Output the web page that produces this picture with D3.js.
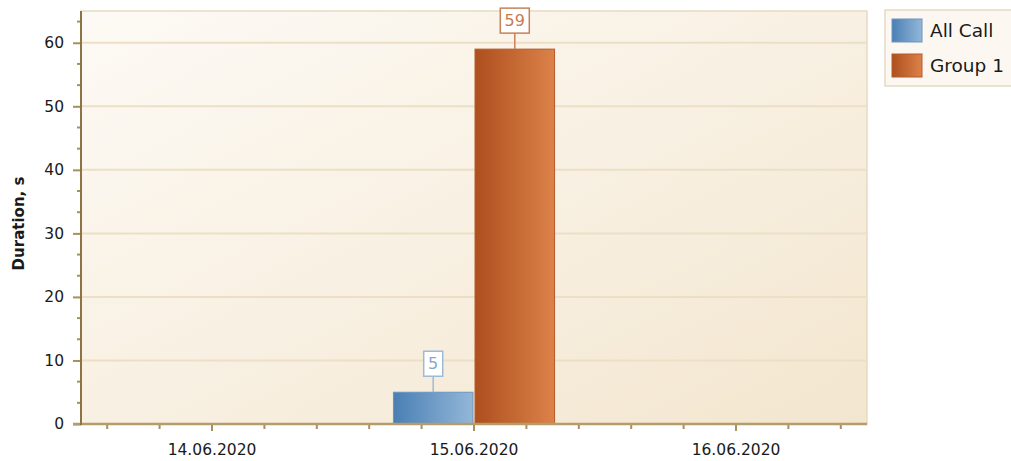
<!DOCTYPE html>
<html>
<head>
<meta charset="utf-8">
<script src="https://cdn.jsdelivr.net/npm/d3@7"></script>
<style>
  html, body { margin: 0; padding: 0; background: #ffffff; }
  svg { display: block; }
  text { font-family: "DejaVu Sans", sans-serif; }
</style>
</head>
<body>
<svg id="chart" width="1011" height="461"></svg>
<script>
// Call duration per day, by group
const categories = ["14.06.2020", "15.06.2020", "16.06.2020"];
const seriesNames = ["All Call", "Group 1"];
const allCallValues = [0, 5, 0];
const group1Values = [0, 59, 0];
const yTickValues = [0, 10, 20, 30, 40, 50, 60];
const yMax = 65;

const seriesValues = [allCallValues, group1Values];
const palette = [
  { dark: "#4a7fb4", light: "#93b7d8", stroke: "#6a95c2", text: "#86a8c9", box: "#9dbad6" },
  { dark: "#ad4f1e", light: "#dc8249", stroke: "#b45a28", text: "#c97a4f", box: "#c98058" }
];

const svg = d3.select("#chart");
const plot = { left: 81, right: 867, top: 11, bottom: 424 };

const defs = svg.append("defs");
const bg = defs.append("linearGradient").attr("id", "bgGrad")
  .attr("x1", "0%").attr("y1", "0%").attr("x2", "100%").attr("y2", "100%");
bg.append("stop").attr("offset", "0%").attr("stop-color", "#fdfaf5");
bg.append("stop").attr("offset", "100%").attr("stop-color", "#f3e6cf");

palette.forEach((p, i) => {
  const g = defs.append("linearGradient").attr("id", "barGrad" + i)
    .attr("x1", "0%").attr("y1", "0%").attr("x2", "100%").attr("y2", "0%");
  g.append("stop").attr("offset", "0%").attr("stop-color", p.dark);
  g.append("stop").attr("offset", "100%").attr("stop-color", p.light);
});

const x = d3.scaleBand().domain(categories).range([plot.left, plot.right]).padding(0);
const groupWidth = x.bandwidth() * 0.615;
const x1 = d3.scaleBand().domain(seriesNames).range([0, groupWidth]).paddingInner(0.025);
const y = d3.scaleLinear().domain([0, yMax]).range([plot.bottom, plot.top]);

// plot background
svg.append("rect")
  .attr("x", plot.left).attr("y", plot.top)
  .attr("width", plot.right - plot.left).attr("height", plot.bottom - plot.top)
  .attr("fill", "url(#bgGrad)")
  .attr("stroke", "#e6dac2").attr("stroke-width", 1.5);

// horizontal grid
svg.append("g").selectAll("line")
  .data(yTickValues.filter(v => v > 0))
  .join("line")
  .attr("x1", plot.left).attr("x2", plot.right)
  .attr("y1", d => y(d)).attr("y2", d => y(d))
  .attr("stroke", "#ecdfc6").attr("stroke-width", 2);

// bars
const bars = svg.append("g");
categories.forEach((cat, ci) => {
  const gx = x(cat) + (x.bandwidth() - groupWidth) / 2;
  seriesNames.forEach((name, si) => {
    const v = seriesValues[si][ci];
    if (v <= 0) return;
    const bx = gx + x1(name);
    const bw = x1.bandwidth();
    bars.append("rect")
      .attr("x", bx).attr("y", y(v))
      .attr("width", bw).attr("height", y(0) - y(v))
      .attr("fill", "url(#barGrad" + si + ")")
      .attr("stroke", palette[si].stroke).attr("stroke-width", 1);

    // value callout
    const cx = bx + bw / 2;
    const label = String(v);
    const boxW = label.length === 1 ? 19 : 29;
    const boxH = 25;
    const lineLen = 16;
    const boxBottom = y(v) - lineLen;
    bars.append("line")
      .attr("x1", cx).attr("x2", cx)
      .attr("y1", boxBottom).attr("y2", y(v))
      .attr("stroke", palette[si].box).attr("stroke-width", 1.5);
    bars.append("rect")
      .attr("x", cx - boxW / 2).attr("y", boxBottom - boxH)
      .attr("width", boxW).attr("height", boxH)
      .attr("fill", "#ffffff")
      .attr("stroke", palette[si].box).attr("stroke-width", 1.5);
    bars.append("text")
      .attr("x", cx).attr("y", boxBottom - boxH / 2)
      .attr("text-anchor", "middle").attr("dominant-baseline", "central")
      .attr("font-size", 16).attr("fill", palette[si].text)
      .text(label);
  });
});

const axisColor = "#8d7444";

// y axis
const yAxis = d3.axisLeft(y).tickValues(yTickValues).tickSize(8).tickPadding(9);
const gy = svg.append("g").attr("transform", `translate(${plot.left},0)`).call(yAxis);
gy.select(".domain").remove();
gy.selectAll(".tick line").attr("stroke", "#a88f5e").attr("stroke-width", 2);
gy.selectAll(".tick text").attr("font-size", 15.5).attr("fill", "#1a1a1a")
  .attr("font-family", "DejaVu Sans, sans-serif");

// y minor ticks at thirds
const yMinor = d3.range(1, Math.floor(yMax * 3 / 10) + 1)
  .filter(k => k % 3 !== 0).map(k => k * 10 / 3);
svg.append("g").selectAll("line").data(yMinor).join("line")
  .attr("x1", plot.left - 4).attr("x2", plot.left)
  .attr("y1", d => y(d)).attr("y2", d => y(d))
  .attr("stroke", "#a88f5e").attr("stroke-width", 2);

// x axis
const xAxis = d3.axisBottom(x).tickSize(7).tickPadding(13);
const gx = svg.append("g").attr("transform", `translate(0,${plot.bottom})`).call(xAxis);
gx.select(".domain").remove();
gx.selectAll(".tick line").attr("stroke", "#a88f5e").attr("stroke-width", 2);
gx.selectAll(".tick text").attr("font-size", 15.5).attr("fill", "#1a1a1a")
  .attr("font-family", "DejaVu Sans, sans-serif");

// x minor ticks, five slots per category
const xMinor = [];
categories.forEach(cat => {
  [0.1, 0.3, 0.7, 0.9].forEach(f => xMinor.push(x(cat) + f * x.bandwidth()));
});
svg.append("g").selectAll("line").data(xMinor).join("line")
  .attr("x1", d => d).attr("x2", d => d)
  .attr("y1", plot.bottom).attr("y2", plot.bottom + 5)
  .attr("stroke", "#a88f5e").attr("stroke-width", 2);

// axis lines
svg.append("line")
  .attr("x1", plot.left - 8).attr("x2", plot.right)
  .attr("y1", plot.bottom).attr("y2", plot.bottom)
  .attr("stroke", "#b49c6c").attr("stroke-width", 2.5);
svg.append("line")
  .attr("x1", plot.left).attr("x2", plot.left)
  .attr("y1", plot.top).attr("y2", plot.bottom + 1)
  .attr("stroke", axisColor).attr("stroke-width", 2);

// y axis title
svg.append("text")
  .attr("transform", `translate(24,${(plot.top + plot.bottom) / 2 + 6}) rotate(-90)`)
  .attr("text-anchor", "middle")
  .attr("font-size", 15).attr("font-weight", "bold").attr("fill", "#1a1a1a")
  .text("Duration, s");

// legend
const legend = svg.append("g");
legend.append("rect")
  .attr("x", 885).attr("y", 10).attr("width", 140).attr("height", 76)
  .attr("fill", "#fcf8f1").attr("stroke", "#e4d9c3").attr("stroke-width", 1.5);
seriesNames.forEach((name, i) => {
  const ly = 19 + i * 35;
  legend.append("rect")
    .attr("x", 892).attr("y", ly).attr("width", 30).attr("height", 23)
    .attr("fill", "url(#barGrad" + i + ")")
    .attr("stroke", palette[i].stroke).attr("stroke-width", 1);
  legend.append("text")
    .attr("x", 930).attr("y", ly + 18)
    .attr("font-size", 18.5).attr("fill", "#1a1a1a")
    .text(name);
});
</script>
</body>
</html>
